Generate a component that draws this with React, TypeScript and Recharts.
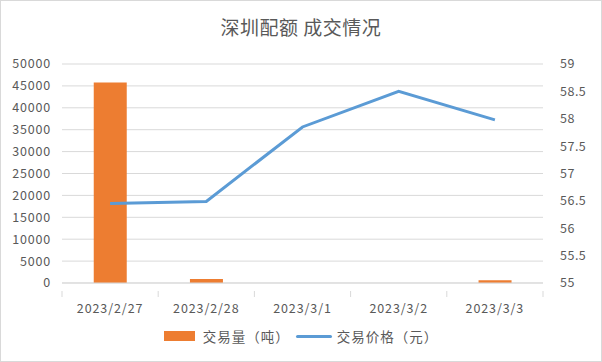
import React from "react";
import {
  ComposedChart,
  Bar,
  Line,
  XAxis,
  YAxis,
  CartesianGrid,
} from "recharts";

const dates = ["2023/2/27", "2023/2/28", "2023/3/1", "2023/3/2", "2023/3/3"];
const volume = [45800, 900, 0, 0, 600];
const price = [56.45, 56.49, 57.85, 58.5, 57.98];
const leftTicks = [0, 5000, 10000, 15000, 20000, 25000, 30000, 35000, 40000, 45000, 50000];
const rightTicks = [55, 55.5, 56, 56.5, 57, 57.5, 58, 58.5, 59];

const W = 602;
const H = 362;
const X_H = 30;
const M = { top: 64, right: 0, bottom: 79 - X_H, left: 0 };
const LEFT_W = 62;
const RIGHT_W = 59;
const BAND = (W - LEFT_W - RIGHT_W) / dates.length;
const FONT = "'Noto Sans CJK SC', 'DejaVu Sans', sans-serif";
const TEXT = "#595959";
const GRID = "#d9d9d9";
const ORANGE = "#ed7d31";
const BLUE = "#5b9bd5";

const data = dates.map((d, i) => ({ date: d, volume: volume[i], price: price[i] }));

function DateTick(props: any) {
  const { x, y, payload, index } = props;
  const left = x - BAND / 2;
  return (
    <g>
      <line x1={left} x2={left} y1={y} y2={y + 6} stroke={GRID} />
      {index === dates.length - 1 && (
        <line x1={left + BAND} x2={left + BAND} y1={y} y2={y + 6} stroke={GRID} />
      )}
      <text
        x={x}
        y={y + 22}
        textAnchor="middle"
        fill={TEXT}
        fontSize={12.5}
        fontFamily={FONT}
        letterSpacing={0.9}
      >
        {payload.value}
      </text>
    </g>
  );
}

export default function App() {
  return (
    <div
      style={{
        position: "absolute",
        left: 0,
        top: 0,
        width: W,
        height: H,
        boxSizing: "border-box",
        border: `1px solid ${GRID}`,
        background: "#fff",
      }}
    >
      <div
        style={{
          position: "absolute",
          top: 12,
          width: "100%",
          textAlign: "center",
          fontFamily: FONT,
          fontSize: 19,
          color: TEXT,
          letterSpacing: 0.5,
        }}
      >
        深圳配额 成交情况
      </div>
      <div style={{ position: "absolute", left: -1, top: -1 }}>
        <ComposedChart width={W} height={H} data={data} margin={M} barCategoryGap="33%">
          <CartesianGrid yAxisId="left" vertical={false} stroke={GRID} />
          <XAxis
            dataKey="date"
            height={X_H}
            stroke={GRID}
            tickLine={false}
            tick={<DateTick />}
            interval={0}
          />
          <YAxis
            yAxisId="left"
            width={LEFT_W}
            domain={[0, 50000]}
            ticks={leftTicks}
            interval={0}
            axisLine={false}
            tickLine={false}
            tickSize={0}
            tickMargin={11}
            tick={{ fill: TEXT, fontSize: 12.5, fontFamily: FONT, letterSpacing: 0.8 }}
          />
          <YAxis
            yAxisId="right"
            orientation="right"
            width={RIGHT_W}
            domain={[55, 59]}
            ticks={rightTicks}
            interval={0}
            axisLine={false}
            tickLine={false}
            tickSize={0}
            tickMargin={17}
            tick={{ fill: TEXT, fontSize: 12.5, fontFamily: FONT, textAnchor: "start", letterSpacing: 0.5 }}
          />
          <Bar yAxisId="left" dataKey="volume" name="交易量（吨）" fill={ORANGE} isAnimationActive={false} />
          <Line
            yAxisId="right"
            dataKey="price"
            name="交易价格（元）"
            stroke={BLUE}
            strokeWidth={3}
            dot={false}
            isAnimationActive={false}
          />
        </ComposedChart>
      </div>
      <div
        style={{
          position: "absolute",
          top: 325,
          left: 0,
          width: "100%",
          display: "flex",
          justifyContent: "center",
          alignItems: "center",
          fontFamily: FONT,
          fontSize: 13.5,
          color: TEXT,
          letterSpacing: 1,
          boxSizing: "border-box",
        }}
      >
        <span style={{ width: 31, height: 10, background: ORANGE, display: "inline-block", marginRight: 8 }} />
        <span style={{ marginRight: 6 }}>交易量（吨）</span>
        <span style={{ width: 36, height: 3, borderRadius: 2, background: BLUE, display: "inline-block", marginRight: 5 }} />
        <span>交易价格（元）</span>
      </div>
    </div>
  );
}
